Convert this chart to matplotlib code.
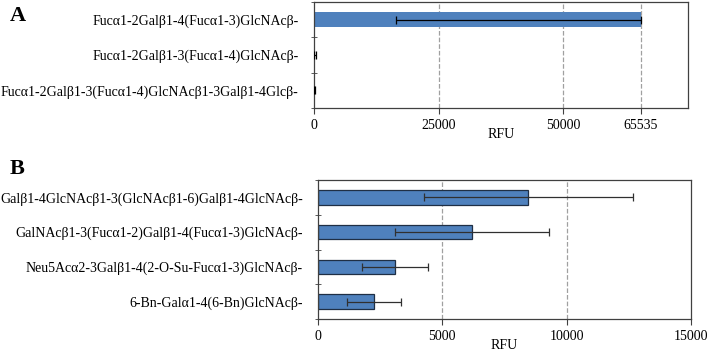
import matplotlib.pyplot as plt
import numpy as np

# Glycan binding, RFU with error bars (panels A and B)

plt.rcParams['font.family'] = ['Liberation Serif', 'DejaVu Serif']

#=====================================================================
#     Data
#
glycansA = ['Fucα1-2Galβ1-4(Fucα1-3)GlcNAcβ-',
            'Fucα1-2Galβ1-3(Fucα1-4)GlcNAcβ-',
            'Fucα1-2Galβ1-3(Fucα1-4)GlcNAcβ1-3Galβ1-4Glcβ-']
rfuA = [65535, 250, 120]
errA_low = [49100, 150, 80]
errA_high = [0, 150, 80]
ticksA = [0, 25000, 50000, 65535]
gridA = [25000, 50000, 65535]

glycansB = ['Galβ1-4GlcNAcβ1-3(GlcNAcβ1-6)Galβ1-4GlcNAcβ-',
            'GalNAcβ1-3(Fucα1-2)Galβ1-4(Fucα1-3)GlcNAcβ-',
            'Neu5Acα2-3Galβ1-4(2-O-Su-Fucα1-3)GlcNAcβ-',
            '6-Bn-Galα1-4(6-Bn)GlcNAcβ-']
rfuB = [8450, 6200, 3100, 2250]
errB = [4200, 3090, 1330, 1100]
ticksB = [0, 5000, 10000, 15000]
gridB = [5000, 10000]
#=====================================================================

textsize = 10
barcol = '#4F81BD'

fig = plt.figure(figsize=(7.09, 3.53), dpi=100)


def style_axes(ax, n):
    ax.set_ylim(n - 0.5, -0.5)
    ax.set_yticks(np.arange(n + 1) - 0.5, minor=True)
    ax.tick_params(axis='y', which='major', length=0, labelsize=textsize, pad=11)
    ax.tick_params(axis='y', which='minor', length=5, direction='inout', color='#404040')
    ax.tick_params(axis='x', which='major', length=4, direction='out', labelsize=textsize,
                   color='#404040', pad=4)
    for s in ax.spines.values():
        s.set_color('#404040')
        s.set_linewidth(0.9)
    ax.set_xlabel('RFU', fontsize=textsize, labelpad=-3)


# Panel A
ax1 = fig.add_axes([314/709, 1 - 108/353, 374/709, 106/353])
yA = np.arange(len(glycansA))
for g in gridA:
    ax1.axvline(g, color='#a0a0a0', ls='--', lw=0.9, zorder=0)
ax1.barh(yA, rfuA, height=0.43, color=barcol, zorder=2)
ax1.errorbar(rfuA, yA, xerr=[errA_low, errA_high], fmt='none', ecolor='black',
             elinewidth=0.9, capsize=3, capthick=0.9, zorder=3)
ax1.set_xlim(0, 75000)
ax1.set_xticks(ticksA)
ax1.set_xticklabels([str(t) for t in ticksA])
ax1.set_yticks(yA)
ax1.set_yticklabels(glycansA)
style_axes(ax1, len(glycansA))

# Panel B
ax2 = fig.add_axes([318/709, 1 - 319/353, 373/709, 139/353])
yB = np.arange(len(glycansB))
for g in gridB:
    ax2.axvline(g, color='#a0a0a0', ls='--', lw=0.9, zorder=0)
ax2.barh(yB, rfuB, height=0.42, color=barcol, edgecolor='#1f2f45', lw=0.9, zorder=2)
ax2.errorbar(rfuB, yB, xerr=errB, fmt='none', ecolor='#303030',
             elinewidth=0.9, capsize=3, capthick=0.9, zorder=3)
ax2.set_xlim(0, 15000)
ax2.set_xticks(ticksB)
ax2.set_xticklabels([str(t) for t in ticksB])
ax2.set_yticks(yB)
ax2.set_yticklabels(glycansB)
style_axes(ax2, len(glycansB))

fig.text(10/709, 1 - 16/353, 'A', fontsize=16, fontweight='bold', va='center', ha='left')
fig.text(10/709, 1 - 169/353, 'B', fontsize=16, fontweight='bold', va='center', ha='left')

plt.savefig('out.png', dpi=100)
